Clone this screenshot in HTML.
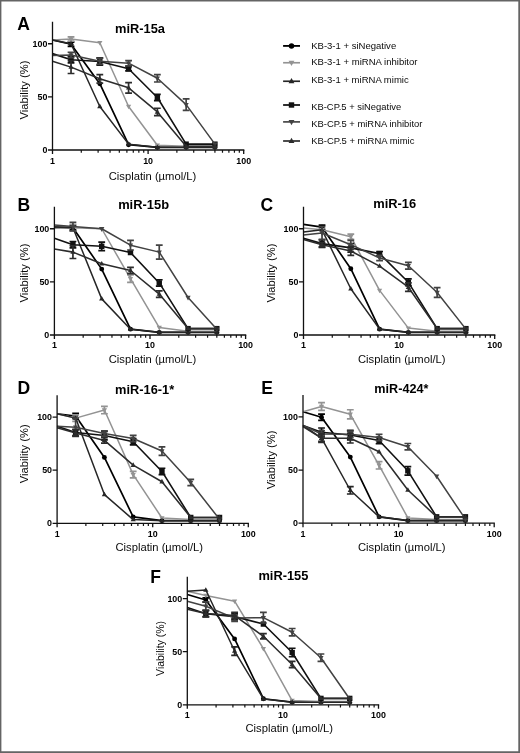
<!DOCTYPE html>
<html><head><meta charset="utf-8"><title>Figure</title>
<style>
html,body{margin:0;padding:0;background:#fff;}
body{width:520px;height:753px;overflow:hidden;}
svg{transform:translateZ(0);will-change:transform;display:block;font-family:"Liberation Sans",sans-serif;}
.tk{font-size:8.9px;font-weight:bold;fill:#000;}
.tt{font-size:12.3px;font-weight:bold;fill:#000;}
.lt{font-size:17.5px;font-weight:bold;fill:#000;}
.ax{font-size:11.3px;fill:#0a0a0a;}
.lg{font-size:9.3px;fill:#0a0a0a;}
</style></head><body>
<svg width="520" height="753" viewBox="0 0 520 753">
<rect x="0" y="0" width="520" height="753" fill="#fff"/>
<path d="M0 0H520V753H0ZM1.4 1.4V751.3H518.3V1.4Z" fill="#646464" fill-rule="evenodd"/>
<g><polyline fill="none" stroke="#000000" stroke-width="1.7" stroke-linejoin="round" points="52.5,39.93 71.03,44.28 99.81,83.7 128.59,144.69 157.36,147.34 186.14,147.34 214.92,147.34"/>
<path d="M71.03 42.16V46.41M67.63 42.16H74.43M67.63 46.41H74.43" stroke="#000000" stroke-width="1.7" fill="none"/>
<circle cx="71.03" cy="44.28" r="2.45" fill="#000000"/>
<circle cx="99.81" cy="83.7" r="2.45" fill="#000000"/>
<circle cx="128.59" cy="144.69" r="2.45" fill="#000000"/>
<circle cx="157.36" cy="147.34" r="2.45" fill="#000000"/>
<circle cx="186.14" cy="147.34" r="2.45" fill="#000000"/>
<circle cx="214.92" cy="147.34" r="2.45" fill="#000000"/>
<polyline fill="none" stroke="#939393" stroke-width="1.5" stroke-linejoin="round" points="52.5,39.93 71.03,38.97 99.81,42.69 128.59,106.44 157.36,145.22 186.14,146.28 214.92,146.28"/>
<path d="M71.03 36.84V41.09M67.63 36.84H74.43M67.63 41.09H74.43" stroke="#939393" stroke-width="1.7" fill="none"/>
<path d="M71.03 41.87L73.63 37.27L68.43 37.27Z" fill="#939393"/>
<path d="M99.81 45.59L102.41 40.99L97.21 40.99Z" fill="#939393"/>
<path d="M128.59 109.34L131.19 104.74L125.99 104.74Z" fill="#939393"/>
<path d="M157.36 148.12L159.96 143.52L154.76 143.52Z" fill="#939393"/>
<path d="M186.14 149.18L188.74 144.58L183.54 144.58Z" fill="#939393"/>
<path d="M214.92 149.18L217.52 144.58L212.32 144.58Z" fill="#939393"/>
<polyline fill="none" stroke="#262626" stroke-width="1.5" stroke-linejoin="round" points="52.5,39.93 71.03,43.75 99.81,106.44 128.59,144.16 157.36,147.34 186.14,147.34 214.92,147.34"/>
<path d="M71.03 40.85L73.63 45.45L68.43 45.45Z" fill="#262626"/>
<path d="M99.81 103.54L102.41 108.14L97.21 108.14Z" fill="#262626"/>
<path d="M128.59 141.26L131.19 145.86L125.99 145.86Z" fill="#262626"/>
<path d="M157.36 144.44L159.96 149.04L154.76 149.04Z" fill="#262626"/>
<path d="M186.14 144.44L188.74 149.04L183.54 149.04Z" fill="#262626"/>
<path d="M214.92 144.44L217.52 149.04L212.32 149.04Z" fill="#262626"/>
<polyline fill="none" stroke="#111111" stroke-width="1.6" stroke-linejoin="round" points="52.5,53.63 71.03,59.69 99.81,61.49 128.59,68.72 157.36,97.51 186.14,144.16 214.92,144.16"/>
<path d="M71.03 56.5V62.88M67.63 56.5H74.43M67.63 62.88H74.43" stroke="#111111" stroke-width="1.7" fill="none"/>
<rect x="68.33" y="56.99" width="5.4" height="5.4" fill="#111111"/>
<path d="M99.81 57.78V65.21M96.41 57.78H103.21M96.41 65.21H103.21" stroke="#111111" stroke-width="1.7" fill="none"/>
<rect x="97.11" y="58.79" width="5.4" height="5.4" fill="#111111"/>
<path d="M128.59 66.59V70.84M125.19 66.59H131.99M125.19 70.84H131.99" stroke="#111111" stroke-width="1.7" fill="none"/>
<rect x="125.89" y="66.02" width="5.4" height="5.4" fill="#111111"/>
<path d="M157.36 94.33V100.7M153.96 94.33H160.76M153.96 100.7H160.76" stroke="#111111" stroke-width="1.7" fill="none"/>
<rect x="154.66" y="94.81" width="5.4" height="5.4" fill="#111111"/>
<rect x="183.44" y="141.46" width="5.4" height="5.4" fill="#111111"/>
<rect x="212.22" y="141.46" width="5.4" height="5.4" fill="#111111"/>
<polyline fill="none" stroke="#424242" stroke-width="1.5" stroke-linejoin="round" points="52.5,55.44 71.03,54.91 99.81,61.28 128.59,63.19 157.36,78.28 186.14,104.63 214.92,144.16"/>
<path d="M71.03 52.25V57.56M67.63 52.25H74.43M67.63 57.56H74.43" stroke="#424242" stroke-width="1.7" fill="none"/>
<path d="M71.03 57.81L73.63 53.21L68.43 53.21Z" fill="#424242"/>
<path d="M99.81 58.09V64.47M96.41 58.09H103.21M96.41 64.47H103.21" stroke="#424242" stroke-width="1.7" fill="none"/>
<path d="M99.81 64.18L102.41 59.58L97.21 59.58Z" fill="#424242"/>
<path d="M128.59 60.54V65.85M125.19 60.54H131.99M125.19 65.85H131.99" stroke="#424242" stroke-width="1.7" fill="none"/>
<path d="M128.59 66.09L131.19 61.49L125.99 61.49Z" fill="#424242"/>
<path d="M157.36 74.56V82M153.96 74.56H160.76M153.96 82H160.76" stroke="#424242" stroke-width="1.7" fill="none"/>
<path d="M157.36 81.18L159.96 76.58L154.76 76.58Z" fill="#424242"/>
<path d="M186.14 98.79V110.47M182.74 98.79H189.54M182.74 110.47H189.54" stroke="#424242" stroke-width="1.7" fill="none"/>
<path d="M186.14 107.53L188.74 102.93L183.54 102.93Z" fill="#424242"/>
<path d="M214.92 147.06L217.52 142.46L212.32 142.46Z" fill="#424242"/>
<polyline fill="none" stroke="#2c2c2c" stroke-width="1.55" stroke-linejoin="round" points="52.5,61.18 71.03,67.12 99.81,78.81 128.59,87.84 157.36,111.96 186.14,146.28 214.92,146.28"/>
<path d="M71.03 60.75V73.5M67.63 60.75H74.43M67.63 73.5H74.43" stroke="#2c2c2c" stroke-width="1.7" fill="none"/>
<path d="M71.03 64.22L73.63 68.83L68.43 68.83Z" fill="#2c2c2c"/>
<path d="M99.81 74.56V83.06M96.41 74.56H103.21M96.41 83.06H103.21" stroke="#2c2c2c" stroke-width="1.7" fill="none"/>
<path d="M99.81 75.91L102.41 80.51L97.21 80.51Z" fill="#2c2c2c"/>
<path d="M128.59 82.53V93.16M125.19 82.53H131.99M125.19 93.16H131.99" stroke="#2c2c2c" stroke-width="1.7" fill="none"/>
<path d="M128.59 84.94L131.19 89.54L125.99 89.54Z" fill="#2c2c2c"/>
<path d="M157.36 108.24V115.68M153.96 108.24H160.76M153.96 115.68H160.76" stroke="#2c2c2c" stroke-width="1.7" fill="none"/>
<path d="M157.36 109.06L159.96 113.66L154.76 113.66Z" fill="#2c2c2c"/>
<path d="M186.14 143.38L188.74 147.98L183.54 147.98Z" fill="#2c2c2c"/>
<path d="M214.92 143.38L217.52 147.98L212.32 147.98Z" fill="#2c2c2c"/>
<path d="M52.5 22.5V150H243.7" stroke="#111" stroke-width="1.3" fill="none" stroke-linecap="square"/>
<path d="M48 150H52.5M48 96.88H52.5M48 43.75H52.5M52.5 150V154M148.1 150V154M243.7 150V154" stroke="#111" stroke-width="1.3" fill="none"/>
<path d="M81.28 150V152.7M98.11 150V152.7M110.06 150V152.7M119.32 150V152.7M126.89 150V152.7M133.29 150V152.7M138.84 150V152.7M143.73 150V152.7M176.88 150V152.7M193.71 150V152.7M205.66 150V152.7M214.92 150V152.7M222.49 150V152.7M228.89 150V152.7M234.44 150V152.7M239.33 150V152.7" stroke="#111" stroke-width="1.2" fill="none"/>
<text class="tk" text-anchor="end" x="47.4" y="153.15">0</text>
<text class="tk" text-anchor="end" x="47.4" y="100.03">50</text>
<text class="tk" text-anchor="end" x="47.4" y="46.9">100</text>
<text class="tk" text-anchor="middle" x="52.5" y="163.6">1</text>
<text class="tk" text-anchor="middle" x="148.1" y="163.6">10</text>
<text class="tk" text-anchor="middle" x="243.7" y="163.6">100</text>
<text class="tt" text-anchor="middle" x="140" y="33.1" textLength="50" lengthAdjust="spacingAndGlyphs">miR-15a</text>
<text class="lt" x="17.3" y="30.1">A</text>
<text class="ax" text-anchor="middle" transform="translate(27.9 90) rotate(-90)" textLength="58.8" lengthAdjust="spacingAndGlyphs">Viability (%)</text>
<text class="ax" x="108.75" y="179.5" textLength="87.5" lengthAdjust="spacingAndGlyphs">Cisplatin (µmol/L)</text></g>
<g><polyline fill="none" stroke="#000000" stroke-width="1.7" stroke-linejoin="round" points="54.4,227.05 72.93,227.69 101.71,269.12 130.49,329.16 159.26,332.34 188.04,332.34 216.82,332.34"/>
<path d="M72.93 225.56V229.81M69.53 225.56H76.33M69.53 229.81H76.33" stroke="#000000" stroke-width="1.7" fill="none"/>
<circle cx="72.93" cy="227.69" r="2.45" fill="#000000"/>
<circle cx="101.71" cy="269.12" r="2.45" fill="#000000"/>
<circle cx="130.49" cy="329.16" r="2.45" fill="#000000"/>
<circle cx="159.26" cy="332.34" r="2.45" fill="#000000"/>
<circle cx="188.04" cy="332.34" r="2.45" fill="#000000"/>
<circle cx="216.82" cy="332.34" r="2.45" fill="#000000"/>
<polyline fill="none" stroke="#939393" stroke-width="1.5" stroke-linejoin="round" points="54.4,228.22 72.93,227.69 101.71,228.75 130.49,278.69 159.26,327.56 188.04,331.28 216.82,331.28"/>
<path d="M72.93 224.5V230.88M69.53 224.5H76.33M69.53 230.88H76.33" stroke="#939393" stroke-width="1.7" fill="none"/>
<path d="M72.93 230.59L75.53 225.99L70.33 225.99Z" fill="#939393"/>
<path d="M101.71 231.65L104.31 227.05L99.11 227.05Z" fill="#939393"/>
<path d="M130.49 274.97V282.41M127.09 274.97H133.89M127.09 282.41H133.89" stroke="#939393" stroke-width="1.7" fill="none"/>
<path d="M130.49 281.59L133.09 276.99L127.89 276.99Z" fill="#939393"/>
<path d="M159.26 330.46L161.86 325.86L156.66 325.86Z" fill="#939393"/>
<path d="M188.04 334.18L190.64 329.58L185.44 329.58Z" fill="#939393"/>
<path d="M216.82 334.18L219.42 329.58L214.22 329.58Z" fill="#939393"/>
<polyline fill="none" stroke="#262626" stroke-width="1.5" stroke-linejoin="round" points="54.4,227.05 72.93,227.69 101.71,298.88 130.49,329.16 159.26,332.34 188.04,332.34 216.82,332.34"/>
<path d="M72.93 224.79L75.53 229.39L70.33 229.39Z" fill="#262626"/>
<path d="M101.71 295.98L104.31 300.57L99.11 300.57Z" fill="#262626"/>
<path d="M130.49 326.26L133.09 330.86L127.89 330.86Z" fill="#262626"/>
<path d="M159.26 329.44L161.86 334.04L156.66 334.04Z" fill="#262626"/>
<path d="M188.04 329.44L190.64 334.04L185.44 334.04Z" fill="#262626"/>
<path d="M216.82 329.44L219.42 334.04L214.22 334.04Z" fill="#262626"/>
<polyline fill="none" stroke="#111111" stroke-width="1.6" stroke-linejoin="round" points="54.4,238.31 72.93,244.69 101.71,246.28 130.49,252.55 159.26,282.94 188.04,328.62 216.82,328.62"/>
<path d="M72.93 241.5V247.88M69.53 241.5H76.33M69.53 247.88H76.33" stroke="#111111" stroke-width="1.7" fill="none"/>
<rect x="70.23" y="241.99" width="5.4" height="5.4" fill="#111111"/>
<path d="M101.71 242.03V250.53M98.31 242.03H105.11M98.31 250.53H105.11" stroke="#111111" stroke-width="1.7" fill="none"/>
<rect x="99.01" y="243.58" width="5.4" height="5.4" fill="#111111"/>
<rect x="127.79" y="249.85" width="5.4" height="5.4" fill="#111111"/>
<path d="M159.26 279.75V286.12M155.86 279.75H162.66M155.86 286.12H162.66" stroke="#111111" stroke-width="1.7" fill="none"/>
<rect x="156.56" y="280.24" width="5.4" height="5.4" fill="#111111"/>
<rect x="185.34" y="325.93" width="5.4" height="5.4" fill="#111111"/>
<rect x="214.12" y="325.93" width="5.4" height="5.4" fill="#111111"/>
<polyline fill="none" stroke="#424242" stroke-width="1.5" stroke-linejoin="round" points="54.4,224.93 72.93,226.62 101.71,228.75 130.49,245.22 159.26,252.12 188.04,297.49 216.82,329.16"/>
<path d="M72.93 222.38V230.88M69.53 222.38H76.33M69.53 230.88H76.33" stroke="#424242" stroke-width="1.7" fill="none"/>
<path d="M72.93 229.53L75.53 224.93L70.33 224.93Z" fill="#424242"/>
<path d="M101.71 231.65L104.31 227.05L99.11 227.05Z" fill="#424242"/>
<path d="M130.49 240.44V250M127.09 240.44H133.89M127.09 250H133.89" stroke="#424242" stroke-width="1.7" fill="none"/>
<path d="M130.49 248.12L133.09 243.52L127.89 243.52Z" fill="#424242"/>
<path d="M159.26 245.22V259.03M155.86 245.22H162.66M155.86 259.03H162.66" stroke="#424242" stroke-width="1.7" fill="none"/>
<path d="M159.26 255.03L161.86 250.43L156.66 250.43Z" fill="#424242"/>
<path d="M188.04 300.39L190.64 295.79L185.44 295.79Z" fill="#424242"/>
<path d="M216.82 332.06L219.42 327.46L214.22 327.46Z" fill="#424242"/>
<polyline fill="none" stroke="#2c2c2c" stroke-width="1.55" stroke-linejoin="round" points="54.4,248.94 72.93,252.12 101.71,263.81 130.49,270.51 159.26,294.09 188.04,328.62 216.82,328.62"/>
<path d="M72.93 245.75V258.5M69.53 245.75H76.33M69.53 258.5H76.33" stroke="#2c2c2c" stroke-width="1.7" fill="none"/>
<path d="M72.93 249.22L75.53 253.82L70.33 253.82Z" fill="#2c2c2c"/>
<path d="M101.71 260.91L104.31 265.51L99.11 265.51Z" fill="#2c2c2c"/>
<path d="M130.49 267.32V273.69M127.09 267.32H133.89M127.09 273.69H133.89" stroke="#2c2c2c" stroke-width="1.7" fill="none"/>
<path d="M130.49 267.61L133.09 272.21L127.89 272.21Z" fill="#2c2c2c"/>
<path d="M159.26 290.91V297.28M155.86 290.91H162.66M155.86 297.28H162.66" stroke="#2c2c2c" stroke-width="1.7" fill="none"/>
<path d="M159.26 291.19L161.86 295.79L156.66 295.79Z" fill="#2c2c2c"/>
<path d="M188.04 325.73L190.64 330.32L185.44 330.32Z" fill="#2c2c2c"/>
<path d="M216.82 325.73L219.42 330.32L214.22 330.32Z" fill="#2c2c2c"/>
<path d="M54.4 207.5V335H245.6" stroke="#111" stroke-width="1.3" fill="none" stroke-linecap="square"/>
<path d="M49.9 335H54.4M49.9 281.88H54.4M49.9 228.75H54.4M54.4 335V339M150 335V339M245.6 335V339" stroke="#111" stroke-width="1.3" fill="none"/>
<path d="M83.18 335V337.7M100.01 335V337.7M111.96 335V337.7M121.22 335V337.7M128.79 335V337.7M135.19 335V337.7M140.74 335V337.7M145.63 335V337.7M178.78 335V337.7M195.61 335V337.7M207.56 335V337.7M216.82 335V337.7M224.39 335V337.7M230.79 335V337.7M236.34 335V337.7M241.23 335V337.7" stroke="#111" stroke-width="1.2" fill="none"/>
<text class="tk" text-anchor="end" x="49.3" y="338.15">0</text>
<text class="tk" text-anchor="end" x="49.3" y="285.02">50</text>
<text class="tk" text-anchor="end" x="49.3" y="231.9">100</text>
<text class="tk" text-anchor="middle" x="54.4" y="348.2">1</text>
<text class="tk" text-anchor="middle" x="150" y="348.2">10</text>
<text class="tk" text-anchor="middle" x="245.6" y="348.2">100</text>
<text class="tt" text-anchor="middle" x="143.6" y="208.75" textLength="50.9" lengthAdjust="spacingAndGlyphs">miR-15b</text>
<text class="lt" x="17.5" y="210.9">B</text>
<text class="ax" text-anchor="middle" transform="translate(27.9 273) rotate(-90)" textLength="58.8" lengthAdjust="spacingAndGlyphs">Viability (%)</text>
<text class="ax" x="108.75" y="362.5" textLength="87.5" lengthAdjust="spacingAndGlyphs">Cisplatin (µmol/L)</text></g>
<g><polyline fill="none" stroke="#000000" stroke-width="1.7" stroke-linejoin="round" points="303.5,224.29 322.03,227.16 350.81,268.7 379.59,329.16 408.36,332.34 437.14,332.34 465.92,332.34"/>
<path d="M322.03 225.03V229.28M318.63 225.03H325.43M318.63 229.28H325.43" stroke="#000000" stroke-width="1.7" fill="none"/>
<circle cx="322.03" cy="227.16" r="2.45" fill="#000000"/>
<circle cx="350.81" cy="268.7" r="2.45" fill="#000000"/>
<circle cx="379.59" cy="329.16" r="2.45" fill="#000000"/>
<circle cx="408.36" cy="332.34" r="2.45" fill="#000000"/>
<circle cx="437.14" cy="332.34" r="2.45" fill="#000000"/>
<circle cx="465.92" cy="332.34" r="2.45" fill="#000000"/>
<polyline fill="none" stroke="#939393" stroke-width="1.5" stroke-linejoin="round" points="303.5,228.01 322.03,229.81 350.81,236.72 379.59,290.38 408.36,328.09 437.14,331.28 465.92,331.28"/>
<path d="M322.03 232.71L324.63 228.11L319.43 228.11Z" fill="#939393"/>
<path d="M350.81 234.06V239.38M347.41 234.06H354.21M347.41 239.38H354.21" stroke="#939393" stroke-width="1.7" fill="none"/>
<path d="M350.81 239.62L353.41 235.02L348.21 235.02Z" fill="#939393"/>
<path d="M379.59 293.27L382.19 288.68L376.99 288.68Z" fill="#939393"/>
<path d="M408.36 330.99L410.96 326.39L405.76 326.39Z" fill="#939393"/>
<path d="M437.14 334.18L439.74 329.58L434.54 329.58Z" fill="#939393"/>
<path d="M465.92 334.18L468.52 329.58L463.32 329.58Z" fill="#939393"/>
<polyline fill="none" stroke="#262626" stroke-width="1.5" stroke-linejoin="round" points="303.5,232.04 322.03,229.81 350.81,288.78 379.59,329.16 408.36,332.34 437.14,332.34 465.92,332.34"/>
<path d="M322.03 226.91L324.63 231.51L319.43 231.51Z" fill="#262626"/>
<path d="M350.81 285.88L353.41 290.48L348.21 290.48Z" fill="#262626"/>
<path d="M379.59 326.26L382.19 330.86L376.99 330.86Z" fill="#262626"/>
<path d="M408.36 329.44L410.96 334.04L405.76 334.04Z" fill="#262626"/>
<path d="M437.14 329.44L439.74 334.04L434.54 334.04Z" fill="#262626"/>
<path d="M465.92 329.44L468.52 334.04L463.32 334.04Z" fill="#262626"/>
<polyline fill="none" stroke="#111111" stroke-width="1.6" stroke-linejoin="round" points="303.5,238.31 322.03,243.62 350.81,247.88 379.59,253.61 408.36,282.3 437.14,328.62 465.92,328.62"/>
<path d="M322.03 239.91V247.34M318.63 239.91H325.43M318.63 247.34H325.43" stroke="#111111" stroke-width="1.7" fill="none"/>
<rect x="319.33" y="240.93" width="5.4" height="5.4" fill="#111111"/>
<path d="M350.81 243.62V252.12M347.41 243.62H354.21M347.41 252.12H354.21" stroke="#111111" stroke-width="1.7" fill="none"/>
<rect x="348.11" y="245.18" width="5.4" height="5.4" fill="#111111"/>
<path d="M379.59 251.49V255.74M376.19 251.49H382.99M376.19 255.74H382.99" stroke="#111111" stroke-width="1.7" fill="none"/>
<rect x="376.89" y="250.91" width="5.4" height="5.4" fill="#111111"/>
<path d="M408.36 278.9V285.7M404.96 278.9H411.76M404.96 285.7H411.76" stroke="#111111" stroke-width="1.7" fill="none"/>
<rect x="405.66" y="279.6" width="5.4" height="5.4" fill="#111111"/>
<rect x="434.44" y="325.93" width="5.4" height="5.4" fill="#111111"/>
<rect x="463.22" y="325.93" width="5.4" height="5.4" fill="#111111"/>
<polyline fill="none" stroke="#424242" stroke-width="1.5" stroke-linejoin="round" points="303.5,235.12 322.03,233 350.81,244.69 379.59,257.97 408.36,265.73 437.14,292.5 465.92,329.16"/>
<path d="M322.03 226.62V239.38M318.63 226.62H325.43M318.63 239.38H325.43" stroke="#424242" stroke-width="1.7" fill="none"/>
<path d="M322.03 235.9L324.63 231.3L319.43 231.3Z" fill="#424242"/>
<path d="M350.81 240.44V248.94M347.41 240.44H354.21M347.41 248.94H354.21" stroke="#424242" stroke-width="1.7" fill="none"/>
<path d="M350.81 247.59L353.41 242.99L348.21 242.99Z" fill="#424242"/>
<path d="M379.59 255.31V260.62M376.19 255.31H382.99M376.19 260.62H382.99" stroke="#424242" stroke-width="1.7" fill="none"/>
<path d="M379.59 260.87L382.19 256.27L376.99 256.27Z" fill="#424242"/>
<path d="M408.36 262.32V269.12M404.96 262.32H411.76M404.96 269.12H411.76" stroke="#424242" stroke-width="1.7" fill="none"/>
<path d="M408.36 268.62L410.96 264.03L405.76 264.03Z" fill="#424242"/>
<path d="M437.14 287.72V297.28M433.74 287.72H440.54M433.74 297.28H440.54" stroke="#424242" stroke-width="1.7" fill="none"/>
<path d="M437.14 295.4L439.74 290.8L434.54 290.8Z" fill="#424242"/>
<path d="M465.92 332.06L468.52 327.46L463.32 327.46Z" fill="#424242"/>
<polyline fill="none" stroke="#2c2c2c" stroke-width="1.55" stroke-linejoin="round" points="303.5,239.38 322.03,244.69 350.81,251.06 379.59,266.15 408.36,287.19 437.14,328.62 465.92,328.62"/>
<path d="M322.03 242.56V246.81M318.63 242.56H325.43M318.63 246.81H325.43" stroke="#2c2c2c" stroke-width="1.7" fill="none"/>
<path d="M322.03 241.79L324.63 246.39L319.43 246.39Z" fill="#2c2c2c"/>
<path d="M350.81 246.81V255.31M347.41 246.81H354.21M347.41 255.31H354.21" stroke="#2c2c2c" stroke-width="1.7" fill="none"/>
<path d="M350.81 248.16L353.41 252.76L348.21 252.76Z" fill="#2c2c2c"/>
<path d="M379.59 263.25L382.19 267.85L376.99 267.85Z" fill="#2c2c2c"/>
<path d="M408.36 282.94V291.44M404.96 282.94H411.76M404.96 291.44H411.76" stroke="#2c2c2c" stroke-width="1.7" fill="none"/>
<path d="M408.36 284.29L410.96 288.89L405.76 288.89Z" fill="#2c2c2c"/>
<path d="M437.14 325.73L439.74 330.32L434.54 330.32Z" fill="#2c2c2c"/>
<path d="M465.92 325.73L468.52 330.32L463.32 330.32Z" fill="#2c2c2c"/>
<path d="M303.5 207.5V335H494.7" stroke="#111" stroke-width="1.3" fill="none" stroke-linecap="square"/>
<path d="M299 335H303.5M299 281.88H303.5M299 228.75H303.5M303.5 335V339M399.1 335V339M494.7 335V339" stroke="#111" stroke-width="1.3" fill="none"/>
<path d="M332.28 335V337.7M349.11 335V337.7M361.06 335V337.7M370.32 335V337.7M377.89 335V337.7M384.29 335V337.7M389.84 335V337.7M394.73 335V337.7M427.88 335V337.7M444.71 335V337.7M456.66 335V337.7M465.92 335V337.7M473.49 335V337.7M479.89 335V337.7M485.44 335V337.7M490.33 335V337.7" stroke="#111" stroke-width="1.2" fill="none"/>
<text class="tk" text-anchor="end" x="298.4" y="338.15">0</text>
<text class="tk" text-anchor="end" x="298.4" y="285.02">50</text>
<text class="tk" text-anchor="end" x="298.4" y="231.9">100</text>
<text class="tk" text-anchor="middle" x="303.5" y="348.2">1</text>
<text class="tk" text-anchor="middle" x="399.1" y="348.2">10</text>
<text class="tk" text-anchor="middle" x="494.7" y="348.2">100</text>
<text class="tt" text-anchor="middle" x="394.7" y="208.4" textLength="43" lengthAdjust="spacingAndGlyphs">miR-16</text>
<text class="lt" x="260.4" y="211">C</text>
<text class="ax" text-anchor="middle" transform="translate(274.9 273) rotate(-90)" textLength="58.8" lengthAdjust="spacingAndGlyphs">Viability (%)</text>
<text class="ax" x="358" y="362.5" textLength="87.5" lengthAdjust="spacingAndGlyphs">Cisplatin (µmol/L)</text></g>
<g><polyline fill="none" stroke="#000000" stroke-width="1.7" stroke-linejoin="round" points="57.1,413.76 75.63,415.99 104.41,457.42 133.19,516.92 161.96,520.64 190.74,520.64 219.52,520.64"/>
<path d="M75.63 413.33V418.64M72.23 413.33H79.03M72.23 418.64H79.03" stroke="#000000" stroke-width="1.7" fill="none"/>
<circle cx="75.63" cy="415.99" r="2.45" fill="#000000"/>
<circle cx="104.41" cy="457.42" r="2.45" fill="#000000"/>
<circle cx="133.19" cy="516.92" r="2.45" fill="#000000"/>
<circle cx="161.96" cy="520.64" r="2.45" fill="#000000"/>
<circle cx="190.74" cy="520.64" r="2.45" fill="#000000"/>
<circle cx="219.52" cy="520.64" r="2.45" fill="#000000"/>
<polyline fill="none" stroke="#939393" stroke-width="1.5" stroke-linejoin="round" points="57.1,413.76 75.63,418.11 104.41,410.04 133.19,474.64 161.96,517.99 190.74,519.58 219.52,519.58"/>
<path d="M75.63 414.92V421.3M72.23 414.92H79.03M72.23 421.3H79.03" stroke="#939393" stroke-width="1.7" fill="none"/>
<path d="M75.63 421.01L78.23 416.41L73.03 416.41Z" fill="#939393"/>
<path d="M104.41 406.32V413.76M101.01 406.32H107.81M101.01 413.76H107.81" stroke="#939393" stroke-width="1.7" fill="none"/>
<path d="M104.41 412.94L107.01 408.34L101.81 408.34Z" fill="#939393"/>
<path d="M133.19 471.45V477.82M129.79 471.45H136.59M129.79 477.82H136.59" stroke="#939393" stroke-width="1.7" fill="none"/>
<path d="M133.19 477.54L135.79 472.94L130.59 472.94Z" fill="#939393"/>
<path d="M161.96 520.89L164.56 516.29L159.36 516.29Z" fill="#939393"/>
<path d="M190.74 522.48L193.34 517.88L188.14 517.88Z" fill="#939393"/>
<path d="M219.52 522.48L222.12 517.88L216.92 517.88Z" fill="#939393"/>
<polyline fill="none" stroke="#262626" stroke-width="1.5" stroke-linejoin="round" points="57.1,413.76 75.63,418.11 104.41,494.61 133.19,519.58 161.96,520.64 190.74,520.64 219.52,520.64"/>
<path d="M75.63 415.21L78.23 419.81L73.03 419.81Z" fill="#262626"/>
<path d="M104.41 491.71L107.01 496.31L101.81 496.31Z" fill="#262626"/>
<path d="M133.19 516.68L135.79 521.28L130.59 521.28Z" fill="#262626"/>
<path d="M161.96 517.74L164.56 522.34L159.36 522.34Z" fill="#262626"/>
<path d="M190.74 517.74L193.34 522.34L188.14 522.34Z" fill="#262626"/>
<path d="M219.52 517.74L222.12 522.34L216.92 522.34Z" fill="#262626"/>
<polyline fill="none" stroke="#111111" stroke-width="1.6" stroke-linejoin="round" points="57.1,426.29 75.63,432.46 104.41,435.54 133.19,441.7 161.96,471.45 190.74,517.46 219.52,517.46"/>
<path d="M75.63 429.27V435.64M72.23 429.27H79.03M72.23 435.64H79.03" stroke="#111111" stroke-width="1.7" fill="none"/>
<rect x="72.93" y="429.76" width="5.4" height="5.4" fill="#111111"/>
<path d="M104.41 431.29V439.79M101.01 431.29H107.81M101.01 439.79H107.81" stroke="#111111" stroke-width="1.7" fill="none"/>
<rect x="101.71" y="432.84" width="5.4" height="5.4" fill="#111111"/>
<path d="M133.19 438.51V444.89M129.79 438.51H136.59M129.79 444.89H136.59" stroke="#111111" stroke-width="1.7" fill="none"/>
<rect x="130.49" y="439" width="5.4" height="5.4" fill="#111111"/>
<path d="M161.96 468.26V474.64M158.56 468.26H165.36M158.56 474.64H165.36" stroke="#111111" stroke-width="1.7" fill="none"/>
<rect x="159.26" y="468.75" width="5.4" height="5.4" fill="#111111"/>
<rect x="188.04" y="514.76" width="5.4" height="5.4" fill="#111111"/>
<rect x="216.82" y="514.76" width="5.4" height="5.4" fill="#111111"/>
<polyline fill="none" stroke="#424242" stroke-width="1.5" stroke-linejoin="round" points="57.1,426.29 75.63,427.25 104.41,433.52 133.19,438.51 161.96,451.05 190.74,482.5 219.52,519.26"/>
<path d="M75.63 418.22V436.28M72.23 418.22H79.03M72.23 436.28H79.03" stroke="#424242" stroke-width="1.7" fill="none"/>
<path d="M75.63 430.15L78.23 425.55L73.03 425.55Z" fill="#424242"/>
<path d="M104.41 430.86V436.17M101.01 430.86H107.81M101.01 436.17H107.81" stroke="#424242" stroke-width="1.7" fill="none"/>
<path d="M104.41 436.42L107.01 431.82L101.81 431.82Z" fill="#424242"/>
<path d="M133.19 435.32V441.7M129.79 435.32H136.59M129.79 441.7H136.59" stroke="#424242" stroke-width="1.7" fill="none"/>
<path d="M133.19 441.41L135.79 436.81L130.59 436.81Z" fill="#424242"/>
<path d="M161.96 446.8V455.3M158.56 446.8H165.36M158.56 455.3H165.36" stroke="#424242" stroke-width="1.7" fill="none"/>
<path d="M161.96 453.95L164.56 449.35L159.36 449.35Z" fill="#424242"/>
<path d="M190.74 479.31V485.69M187.34 479.31H194.14M187.34 485.69H194.14" stroke="#424242" stroke-width="1.7" fill="none"/>
<path d="M190.74 485.4L193.34 480.8L188.14 480.8Z" fill="#424242"/>
<path d="M219.52 522.16L222.12 517.56L216.92 517.56Z" fill="#424242"/>
<polyline fill="none" stroke="#2c2c2c" stroke-width="1.55" stroke-linejoin="round" points="57.1,427.78 75.63,432.99 104.41,440.42 133.19,465.18 161.96,481.76 190.74,517.46 219.52,517.46"/>
<path d="M75.63 429.8V436.17M72.23 429.8H79.03M72.23 436.17H79.03" stroke="#2c2c2c" stroke-width="1.7" fill="none"/>
<path d="M75.63 430.09L78.23 434.69L73.03 434.69Z" fill="#2c2c2c"/>
<path d="M104.41 437.77V443.08M101.01 437.77H107.81M101.01 443.08H107.81" stroke="#2c2c2c" stroke-width="1.7" fill="none"/>
<path d="M104.41 437.52L107.01 442.12L101.81 442.12Z" fill="#2c2c2c"/>
<path d="M133.19 462.28L135.79 466.88L130.59 466.88Z" fill="#2c2c2c"/>
<path d="M161.96 478.86L164.56 483.46L159.36 483.46Z" fill="#2c2c2c"/>
<path d="M190.74 514.56L193.34 519.16L188.14 519.16Z" fill="#2c2c2c"/>
<path d="M219.52 514.56L222.12 519.16L216.92 519.16Z" fill="#2c2c2c"/>
<path d="M57.1 395.8V523.3H248.3" stroke="#111" stroke-width="1.3" fill="none" stroke-linecap="square"/>
<path d="M52.6 523.3H57.1M52.6 470.17H57.1M52.6 417.05H57.1M57.1 523.3V527.3M152.7 523.3V527.3M248.3 523.3V527.3" stroke="#111" stroke-width="1.3" fill="none"/>
<path d="M85.88 523.3V526M102.71 523.3V526M114.66 523.3V526M123.92 523.3V526M131.49 523.3V526M137.89 523.3V526M143.44 523.3V526M148.33 523.3V526M181.48 523.3V526M198.31 523.3V526M210.26 523.3V526M219.52 523.3V526M227.09 523.3V526M233.49 523.3V526M239.04 523.3V526M243.93 523.3V526" stroke="#111" stroke-width="1.2" fill="none"/>
<text class="tk" text-anchor="end" x="52" y="526.45">0</text>
<text class="tk" text-anchor="end" x="52" y="473.32">50</text>
<text class="tk" text-anchor="end" x="52" y="420.2">100</text>
<text class="tk" text-anchor="middle" x="57.1" y="537">1</text>
<text class="tk" text-anchor="middle" x="152.7" y="537">10</text>
<text class="tk" text-anchor="middle" x="248.3" y="537">100</text>
<text class="tt" text-anchor="middle" x="144.6" y="394.1" textLength="59.1" lengthAdjust="spacingAndGlyphs">miR-16-1*</text>
<text class="lt" x="17.5" y="393.75">D</text>
<text class="ax" text-anchor="middle" transform="translate(27.9 453.8) rotate(-90)" textLength="58.8" lengthAdjust="spacingAndGlyphs">Viability (%)</text>
<text class="ax" x="115.5" y="551" textLength="87.5" lengthAdjust="spacingAndGlyphs">Cisplatin (µmol/L)</text></g>
<g><polyline fill="none" stroke="#000000" stroke-width="1.7" stroke-linejoin="round" points="303,411.74 321.53,417.27 350.31,457.11 379.09,516.83 407.86,520.54 436.64,520.54 465.42,520.54"/>
<path d="M321.53 414.08V420.46M318.13 414.08H324.93M318.13 420.46H324.93" stroke="#000000" stroke-width="1.7" fill="none"/>
<circle cx="321.53" cy="417.27" r="2.45" fill="#000000"/>
<circle cx="350.31" cy="457.11" r="2.45" fill="#000000"/>
<circle cx="379.09" cy="516.83" r="2.45" fill="#000000"/>
<circle cx="407.86" cy="520.54" r="2.45" fill="#000000"/>
<circle cx="436.64" cy="520.54" r="2.45" fill="#000000"/>
<circle cx="465.42" cy="520.54" r="2.45" fill="#000000"/>
<polyline fill="none" stroke="#939393" stroke-width="1.5" stroke-linejoin="round" points="303,411.74 321.53,406.54 350.31,414.29 379.09,465.29 407.86,517.89 436.64,519.48 465.42,519.48"/>
<path d="M321.53 402.71V410.36M318.13 402.71H324.93M318.13 410.36H324.93" stroke="#939393" stroke-width="1.7" fill="none"/>
<path d="M321.53 409.44L324.13 404.84L318.93 404.84Z" fill="#939393"/>
<path d="M350.31 409.73V418.86M346.91 409.73H353.71M346.91 418.86H353.71" stroke="#939393" stroke-width="1.7" fill="none"/>
<path d="M350.31 417.19L352.91 412.59L347.71 412.59Z" fill="#939393"/>
<path d="M379.09 461.58V469.01M375.69 461.58H382.49M375.69 469.01H382.49" stroke="#939393" stroke-width="1.7" fill="none"/>
<path d="M379.09 468.19L381.69 463.59L376.49 463.59Z" fill="#939393"/>
<path d="M407.86 520.79L410.46 516.19L405.26 516.19Z" fill="#939393"/>
<path d="M436.64 522.38L439.24 517.78L434.04 517.78Z" fill="#939393"/>
<path d="M465.42 522.38L468.02 517.78L462.82 517.78Z" fill="#939393"/>
<polyline fill="none" stroke="#262626" stroke-width="1.5" stroke-linejoin="round" points="303,425.45 321.53,438.2 350.31,490.26 379.09,516.83 407.86,520.54 436.64,520.54 465.42,520.54"/>
<path d="M321.53 435.01V441.39M318.13 435.01H324.93M318.13 441.39H324.93" stroke="#262626" stroke-width="1.7" fill="none"/>
<path d="M321.53 435.3L324.13 439.9L318.93 439.9Z" fill="#262626"/>
<path d="M350.31 486.54V493.98M346.91 486.54H353.71M346.91 493.98H353.71" stroke="#262626" stroke-width="1.7" fill="none"/>
<path d="M350.31 487.36L352.91 491.96L347.71 491.96Z" fill="#262626"/>
<path d="M379.09 513.93L381.69 518.53L376.49 518.53Z" fill="#262626"/>
<path d="M407.86 517.64L410.46 522.24L405.26 522.24Z" fill="#262626"/>
<path d="M436.64 517.64L439.24 522.24L434.04 522.24Z" fill="#262626"/>
<path d="M465.42 517.64L468.02 522.24L462.82 522.24Z" fill="#262626"/>
<polyline fill="none" stroke="#111111" stroke-width="1.6" stroke-linejoin="round" points="303,425.45 321.53,432.25 350.31,435.01 379.09,440.54 407.86,470.82 436.64,516.83 465.42,516.83"/>
<path d="M321.53 428V436.5M318.13 428H324.93M318.13 436.5H324.93" stroke="#111111" stroke-width="1.7" fill="none"/>
<rect x="318.83" y="429.55" width="5.4" height="5.4" fill="#111111"/>
<path d="M350.31 430.23V439.79M346.91 430.23H353.71M346.91 439.79H353.71" stroke="#111111" stroke-width="1.7" fill="none"/>
<rect x="347.61" y="432.31" width="5.4" height="5.4" fill="#111111"/>
<path d="M379.09 437.35V443.73M375.69 437.35H382.49M375.69 443.73H382.49" stroke="#111111" stroke-width="1.7" fill="none"/>
<rect x="376.39" y="437.84" width="5.4" height="5.4" fill="#111111"/>
<path d="M407.86 466.57V475.07M404.46 466.57H411.26M404.46 475.07H411.26" stroke="#111111" stroke-width="1.7" fill="none"/>
<rect x="405.16" y="468.12" width="5.4" height="5.4" fill="#111111"/>
<rect x="433.94" y="514.12" width="5.4" height="5.4" fill="#111111"/>
<rect x="462.72" y="514.12" width="5.4" height="5.4" fill="#111111"/>
<polyline fill="none" stroke="#424242" stroke-width="1.5" stroke-linejoin="round" points="303,425.45 321.53,433.95 350.31,434.27 379.09,437.46 407.86,446.7 436.64,476.24 465.42,519.16"/>
<path d="M321.53 430.76V437.14M318.13 430.76H324.93M318.13 437.14H324.93" stroke="#424242" stroke-width="1.7" fill="none"/>
<path d="M321.53 436.85L324.13 432.25L318.93 432.25Z" fill="#424242"/>
<path d="M350.31 431.08V437.46M346.91 431.08H353.71M346.91 437.46H353.71" stroke="#424242" stroke-width="1.7" fill="none"/>
<path d="M350.31 437.17L352.91 432.57L347.71 432.57Z" fill="#424242"/>
<path d="M379.09 434.27V440.64M375.69 434.27H382.49M375.69 440.64H382.49" stroke="#424242" stroke-width="1.7" fill="none"/>
<path d="M379.09 440.36L381.69 435.76L376.49 435.76Z" fill="#424242"/>
<path d="M407.86 443.51V449.89M404.46 443.51H411.26M404.46 449.89H411.26" stroke="#424242" stroke-width="1.7" fill="none"/>
<path d="M407.86 449.6L410.46 445L405.26 445Z" fill="#424242"/>
<path d="M436.64 479.14L439.24 474.54L434.04 474.54Z" fill="#424242"/>
<path d="M465.42 522.06L468.02 517.46L462.82 517.46Z" fill="#424242"/>
<polyline fill="none" stroke="#2c2c2c" stroke-width="1.55" stroke-linejoin="round" points="303,426.51 321.53,438.2 350.31,438.2 379.09,451.8 407.86,490.05 436.64,516.83 465.42,516.83"/>
<path d="M321.53 433.95V442.45M318.13 433.95H324.93M318.13 442.45H324.93" stroke="#2c2c2c" stroke-width="1.7" fill="none"/>
<path d="M321.53 435.3L324.13 439.9L318.93 439.9Z" fill="#2c2c2c"/>
<path d="M350.31 433.42V442.98M346.91 433.42H353.71M346.91 442.98H353.71" stroke="#2c2c2c" stroke-width="1.7" fill="none"/>
<path d="M350.31 435.3L352.91 439.9L347.71 439.9Z" fill="#2c2c2c"/>
<path d="M379.09 448.9L381.69 453.5L376.49 453.5Z" fill="#2c2c2c"/>
<path d="M407.86 487.15L410.46 491.75L405.26 491.75Z" fill="#2c2c2c"/>
<path d="M436.64 513.93L439.24 518.53L434.04 518.53Z" fill="#2c2c2c"/>
<path d="M465.42 513.93L468.02 518.53L462.82 518.53Z" fill="#2c2c2c"/>
<path d="M303 395.7V523.2H494.2" stroke="#111" stroke-width="1.3" fill="none" stroke-linecap="square"/>
<path d="M298.5 523.2H303M298.5 470.08H303M298.5 416.95H303M303 523.2V527.2M398.6 523.2V527.2M494.2 523.2V527.2" stroke="#111" stroke-width="1.3" fill="none"/>
<path d="M331.78 523.2V525.9M348.61 523.2V525.9M360.56 523.2V525.9M369.82 523.2V525.9M377.39 523.2V525.9M383.79 523.2V525.9M389.34 523.2V525.9M394.23 523.2V525.9M427.38 523.2V525.9M444.21 523.2V525.9M456.16 523.2V525.9M465.42 523.2V525.9M472.99 523.2V525.9M479.39 523.2V525.9M484.94 523.2V525.9M489.83 523.2V525.9" stroke="#111" stroke-width="1.2" fill="none"/>
<text class="tk" text-anchor="end" x="297.9" y="526.35">0</text>
<text class="tk" text-anchor="end" x="297.9" y="473.23">50</text>
<text class="tk" text-anchor="end" x="297.9" y="420.1">100</text>
<text class="tk" text-anchor="middle" x="303" y="536.8">1</text>
<text class="tk" text-anchor="middle" x="398.6" y="536.8">10</text>
<text class="tk" text-anchor="middle" x="494.2" y="536.8">100</text>
<text class="tt" text-anchor="middle" x="401.4" y="393.4" textLength="54.1" lengthAdjust="spacingAndGlyphs">miR-424*</text>
<text class="lt" x="261.3" y="393.75">E</text>
<text class="ax" text-anchor="middle" transform="translate(275.3 459.9) rotate(-90)" textLength="58.8" lengthAdjust="spacingAndGlyphs">Viability (%)</text>
<text class="ax" x="358" y="551" textLength="87.5" lengthAdjust="spacingAndGlyphs">Cisplatin (µmol/L)</text></g>
<g><polyline fill="none" stroke="#000000" stroke-width="1.7" stroke-linejoin="round" points="187.3,594.51 205.83,600.04 234.61,638.92 263.39,698.74 292.16,702.14 320.94,702.14 349.72,702.14"/>
<path d="M205.83 597.91V602.16M202.43 597.91H209.23M202.43 602.16H209.23" stroke="#000000" stroke-width="1.7" fill="none"/>
<circle cx="205.83" cy="600.04" r="2.45" fill="#000000"/>
<circle cx="234.61" cy="638.92" r="2.45" fill="#000000"/>
<circle cx="263.39" cy="698.74" r="2.45" fill="#000000"/>
<circle cx="292.16" cy="702.14" r="2.45" fill="#000000"/>
<circle cx="320.94" cy="702.14" r="2.45" fill="#000000"/>
<circle cx="349.72" cy="702.14" r="2.45" fill="#000000"/>
<polyline fill="none" stroke="#939393" stroke-width="1.5" stroke-linejoin="round" points="187.3,591.22 205.83,595.47 234.61,601.21 263.39,648.7 292.16,700.55 320.94,701.61 349.72,701.61"/>
<path d="M205.83 598.37L208.43 593.77L203.23 593.77Z" fill="#939393"/>
<path d="M234.61 604.11L237.21 599.51L232.01 599.51Z" fill="#939393"/>
<path d="M263.39 651.6L265.99 647L260.79 647Z" fill="#939393"/>
<path d="M292.16 703.45L294.76 698.85L289.56 698.85Z" fill="#939393"/>
<path d="M320.94 704.51L323.54 699.91L318.34 699.91Z" fill="#939393"/>
<path d="M349.72 704.51L352.32 699.91L347.12 699.91Z" fill="#939393"/>
<polyline fill="none" stroke="#262626" stroke-width="1.5" stroke-linejoin="round" points="187.3,591.22 205.83,590.05 234.61,651.04 263.39,698.96 292.16,702.14 320.94,702.14 349.72,702.14"/>
<path d="M205.83 587.15L208.43 591.75L203.23 591.75Z" fill="#262626"/>
<path d="M234.61 646.79V655.29M231.21 646.79H238.01M231.21 655.29H238.01" stroke="#262626" stroke-width="1.7" fill="none"/>
<path d="M234.61 648.14L237.21 652.74L232.01 652.74Z" fill="#262626"/>
<path d="M263.39 696.06L265.99 700.66L260.79 700.66Z" fill="#262626"/>
<path d="M292.16 699.24L294.76 703.84L289.56 703.84Z" fill="#262626"/>
<path d="M320.94 699.24L323.54 703.84L318.34 703.84Z" fill="#262626"/>
<path d="M349.72 699.24L352.32 703.84L347.12 703.84Z" fill="#262626"/>
<polyline fill="none" stroke="#111111" stroke-width="1.6" stroke-linejoin="round" points="187.3,607.47 205.83,613.74 234.61,616.61 263.39,624.05 292.16,652.52 320.94,698.42 349.72,698.42"/>
<path d="M205.83 610.56V616.93M202.43 610.56H209.23M202.43 616.93H209.23" stroke="#111111" stroke-width="1.7" fill="none"/>
<rect x="203.13" y="611.04" width="5.4" height="5.4" fill="#111111"/>
<path d="M234.61 613.42V619.8M231.21 613.42H238.01M231.21 619.8H238.01" stroke="#111111" stroke-width="1.7" fill="none"/>
<rect x="231.91" y="613.91" width="5.4" height="5.4" fill="#111111"/>
<rect x="260.69" y="621.35" width="5.4" height="5.4" fill="#111111"/>
<path d="M292.16 648.27V656.77M288.76 648.27H295.56M288.76 656.77H295.56" stroke="#111111" stroke-width="1.7" fill="none"/>
<rect x="289.46" y="649.82" width="5.4" height="5.4" fill="#111111"/>
<rect x="318.24" y="695.72" width="5.4" height="5.4" fill="#111111"/>
<rect x="347.02" y="695.72" width="5.4" height="5.4" fill="#111111"/>
<polyline fill="none" stroke="#424242" stroke-width="1.5" stroke-linejoin="round" points="187.3,601.21 205.83,606.2 234.61,618.1 263.39,617.67 292.16,632.23 320.94,657.73 349.72,698.96"/>
<path d="M205.83 601.95V610.45M202.43 601.95H209.23M202.43 610.45H209.23" stroke="#424242" stroke-width="1.7" fill="none"/>
<path d="M205.83 609.1L208.43 604.5L203.23 604.5Z" fill="#424242"/>
<path d="M234.61 614.91V621.29M231.21 614.91H238.01M231.21 621.29H238.01" stroke="#424242" stroke-width="1.7" fill="none"/>
<path d="M234.61 621L237.21 616.4L232.01 616.4Z" fill="#424242"/>
<path d="M263.39 612.36V622.99M259.99 612.36H266.79M259.99 622.99H266.79" stroke="#424242" stroke-width="1.7" fill="none"/>
<path d="M263.39 620.57L265.99 615.97L260.79 615.97Z" fill="#424242"/>
<path d="M292.16 628.51V635.95M288.76 628.51H295.56M288.76 635.95H295.56" stroke="#424242" stroke-width="1.7" fill="none"/>
<path d="M292.16 635.13L294.76 630.53L289.56 630.53Z" fill="#424242"/>
<path d="M320.94 654.01V661.45M317.54 654.01H324.34M317.54 661.45H324.34" stroke="#424242" stroke-width="1.7" fill="none"/>
<path d="M320.94 660.63L323.54 656.03L318.34 656.03Z" fill="#424242"/>
<path d="M349.72 701.86L352.32 697.26L347.12 697.26Z" fill="#424242"/>
<polyline fill="none" stroke="#2c2c2c" stroke-width="1.55" stroke-linejoin="round" points="187.3,609.17 205.83,613.42 234.61,615.55 263.39,636.27 292.16,664.53 320.94,698.42 349.72,698.42"/>
<path d="M205.83 610.24V616.61M202.43 610.24H209.23M202.43 616.61H209.23" stroke="#2c2c2c" stroke-width="1.7" fill="none"/>
<path d="M205.83 610.52L208.43 615.12L203.23 615.12Z" fill="#2c2c2c"/>
<path d="M234.61 612.36V618.74M231.21 612.36H238.01M231.21 618.74H238.01" stroke="#2c2c2c" stroke-width="1.7" fill="none"/>
<path d="M234.61 612.65L237.21 617.25L232.01 617.25Z" fill="#2c2c2c"/>
<path d="M263.39 633.61V638.92M259.99 633.61H266.79M259.99 638.92H266.79" stroke="#2c2c2c" stroke-width="1.7" fill="none"/>
<path d="M263.39 633.37L265.99 637.97L260.79 637.97Z" fill="#2c2c2c"/>
<path d="M292.16 661.34V667.72M288.76 661.34H295.56M288.76 667.72H295.56" stroke="#2c2c2c" stroke-width="1.7" fill="none"/>
<path d="M292.16 661.63L294.76 666.23L289.56 666.23Z" fill="#2c2c2c"/>
<path d="M320.94 695.52L323.54 700.12L318.34 700.12Z" fill="#2c2c2c"/>
<path d="M349.72 695.52L352.32 700.12L347.12 700.12Z" fill="#2c2c2c"/>
<path d="M187.3 577.3V704.8H378.5" stroke="#111" stroke-width="1.3" fill="none" stroke-linecap="square"/>
<path d="M182.8 704.8H187.3M182.8 651.67H187.3M182.8 598.55H187.3M187.3 704.8V708.8M282.9 704.8V708.8M378.5 704.8V708.8" stroke="#111" stroke-width="1.3" fill="none"/>
<path d="M216.08 704.8V707.5M232.91 704.8V707.5M244.86 704.8V707.5M254.12 704.8V707.5M261.69 704.8V707.5M268.09 704.8V707.5M273.64 704.8V707.5M278.53 704.8V707.5M311.68 704.8V707.5M328.51 704.8V707.5M340.46 704.8V707.5M349.72 704.8V707.5M357.29 704.8V707.5M363.69 704.8V707.5M369.24 704.8V707.5M374.13 704.8V707.5" stroke="#111" stroke-width="1.2" fill="none"/>
<text class="tk" text-anchor="end" x="182.2" y="707.95">0</text>
<text class="tk" text-anchor="end" x="182.2" y="654.82">50</text>
<text class="tk" text-anchor="end" x="182.2" y="601.7">100</text>
<text class="tk" text-anchor="middle" x="187.3" y="718.2">1</text>
<text class="tk" text-anchor="middle" x="282.9" y="718.2">10</text>
<text class="tk" text-anchor="middle" x="378.5" y="718.2">100</text>
<text class="tt" text-anchor="middle" x="283.4" y="580.4" textLength="50" lengthAdjust="spacingAndGlyphs">miR-155</text>
<text class="lt" x="150.3" y="583.4">F</text>
<text class="ax" text-anchor="middle" transform="translate(163.9 648.4) rotate(-90)" textLength="55" lengthAdjust="spacingAndGlyphs">Viability (%)</text>
<text class="ax" x="245.5" y="732.3" textLength="87.5" lengthAdjust="spacingAndGlyphs">Cisplatin (µmol/L)</text></g>
<path d="M283.1 45.9H300" stroke="#000000" stroke-width="1.8499999999999999"/>
<circle cx="291.5" cy="45.9" r="2.74" fill="#000000"/>
<text class="lg" x="311.2" y="48.5" textLength="85" lengthAdjust="spacingAndGlyphs">KB-3-1 + siNegative</text>
<path d="M283.1 62.75H300" stroke="#939393" stroke-width="1.65"/>
<path d="M291.5 66L294.41 60.85L288.59 60.85Z" fill="#939393"/>
<text class="lg" x="311.2" y="65.4" textLength="106.25" lengthAdjust="spacingAndGlyphs">KB-3-1 + miRNA inhibitor</text>
<path d="M283.1 81.25H300" stroke="#262626" stroke-width="1.65"/>
<path d="M291.5 78L294.41 83.15L288.59 83.15Z" fill="#262626"/>
<text class="lg" x="311.2" y="82.9" textLength="97.5" lengthAdjust="spacingAndGlyphs">KB-3-1 + miRNA mimic</text>
<path d="M283.1 105H300" stroke="#111111" stroke-width="1.75"/>
<rect x="288.8" y="102.3" width="5.4" height="5.4" fill="#111111"/>
<text class="lg" x="311.2" y="109.75" textLength="90" lengthAdjust="spacingAndGlyphs">KB-CP.5 + siNegative</text>
<path d="M283.1 121.9H300" stroke="#424242" stroke-width="1.65"/>
<path d="M291.5 125.15L294.41 120L288.59 120Z" fill="#424242"/>
<text class="lg" x="311.2" y="126.9" textLength="111.25" lengthAdjust="spacingAndGlyphs">KB-CP.5 + miRNA inhibitor</text>
<path d="M283.1 141H300" stroke="#2c2c2c" stroke-width="1.7"/>
<path d="M291.5 137.75L294.41 142.9L288.59 142.9Z" fill="#2c2c2c"/>
<text class="lg" x="311.2" y="144.4" textLength="103.25" lengthAdjust="spacingAndGlyphs">KB-CP.5 + miRNA mimic</text>
</svg>
</body></html>
